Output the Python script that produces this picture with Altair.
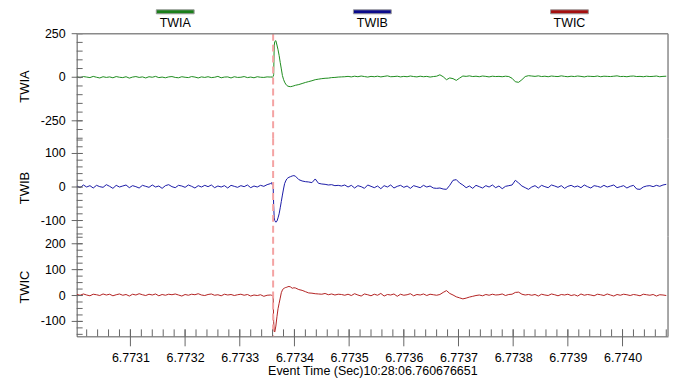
import altair as alt
import pandas as pd

FONT = "Liberation Sans"
T0 = 6.7730  # seconds; sample times below are microseconds after T0

# ---------------- sample time base (microseconds after T0) ----------------
t_pre = list(range(2, 357, 6))  # 60 samples
t_event = [358, 359, 360, 361, 362, 363, 364, 366, 368, 370, 372, 374, 376,
           378, 380, 382, 384, 386, 388, 390, 393, 396, 399]  # 23 samples
t_post = list(range(402, 1083, 6))  # 114 samples

# ---------------- TWIA ----------------
twia_pre = [2, -3, 4, 1, -2, 5, 0, -4, 3, -1,
            2, -3, 4, 0, -2, 3, -5, 1, 4, -1,
            2, -4, 3, 0, 5, -2, 1, -3, 2, 4,
            -1, -3, 3, 0, -2, 4, 1, -4, 2, -1,
            3, -2, 0, 5, -3, 1, 2, -4, 3, -1,
            0, 4, -2, 1, -3, 3, 0, -1, 2, 1]
twia_event = [3, -2, 2, 4, 15, 180, 205, 210, 185, 158, 125, 85, 48, 10, -12,
              -28, -39, -47, -51, -53, -54, -52, -49]
twia_post = [-46, -42, -36, -30, -25, -20, -14, -11, -8, -6, -5, -2, -1, 1, 2, 3,
             5, 2, 6, 3, 7, 4, 1, 5, 3, 6, 2, 5, 8, 3, 4, 6, 2, 5, 3, 7, 4, 2, 6, 3, 5, 1, 4, 6,
             14, 3, -14, -4, -8, -18, -5, 7, 5, 8,
             4, 6, 3, 7, 5, 2, 6, 4, 5, 3, 6, 4,
             -6, -26, -29, -14, 4, 9,
             7, 5, 8, 4, 6, 3, 7, 5, 4, 8, 5, 3, 6, 4, 7, 5, 2, 6, 5, 4,
             7, 3, 6, 5, 4, 6, 8, 4, 5, 3, 6, 7, 4, 5, 3, 6, 4, 5, 7, 3, 5, 6]

# ---------------- TWIB ----------------
twib_pre = [3, -2, 6, 0, 4, -3, 5, 1, -1, 7,
            2, -4, 5, 0, 3, 6, -2, 4, 1, -3,
            5, 2, -1, 6, 0, 3, -4, 4, 7, 1,
            -2, 5, 3, -1, 6, 2, -3, 4, 0, 5,
            1, 6, -2, 3, 0, 4, -3, 5, 2, -1,
            4, 1, 6, -2, 3, 0, 5, 2, 7, 10]
twib_event = [13, 8, 10, 6, -55, -92, -100, -105, -102, -92, -80, -62, -43, -24,
              -6, 10, 18, 24, 27, 29, 31, 33, 34]
twib_post = [32, 22, 18, 16, 15, 13, 24, 11, 9, 8, 6, 7, 4, 5, 3, 6,
             0, 5, -3, 4, 1, -4, 6, 2, -2, 3, -5, 4, 0, 6, -3, 2, 5, -1, 3, -4, 4, 1, -2, 5, 0, 3, -3, -4,
             -3, -6, -7, 5, 20, 22, 12, 6, -2, 3,
             -4, 5, 1, -3, 4, 0, 6, -2, 3, -5, 2, 4,
             6, 20, 12, 3, -2, -7,
             0, 4, -3, 5, 1, -2, 6, 3, -1, 4, -4, 2, 5, 0, 3, -2, 6, 1, -3, 4,
             2, -1, 5, 0, 3, 6, -2, 1, 4, -3, 2, 5, -6, -7, 0, 3, 4, 1, 5, 2, 6, 8]

# ---------------- TWIC ----------------
twic_pre = [4, 1, 6, 2, -1, 5, 3, 0, 6, 2,
            5, -1, 3, 6, 1, 4, -2, 5, 2, 7,
            3, 0, 5, 2, 6, -1, 4, 1, 5, 3,
            6, 2, -2, 4, 1, 5, 3, 7, 2, 0,
            4, 6, 1, 3, -1, 5, 2, 4, 0, 3,
            5, 1, 4, -2, 2, 0, 3, -3, 1, 2]
twic_event = [2, -1, 0, -3, -100, -138, -141, -118, -82, -51, -30, -10, 11, 21,
              27, 29, 31, 32, 34, 35, 33, 28, 30]
twic_post = [29, 23, 20, 15, 10, 9, 7, 6, 5, 8, 3, 6, 2, 5, 4, 1,
             5, 0, 7, 2, -2, 6, 3, -1, 5, 1, 8, -2, 4, 2, 6, -3, 5, 1, 3, 7, -1, 4, 2, 6, 0, 5, 3, 1,
             4, 12, 19, 8, 2, -5, -9, -13, -10, -6,
             -3, 0, 2, -1, 4, 1, 5, 2, 3, 6, 0, 4,
             5, 12, 13, 5, 2, 4,
             1, 4, -2, 5, 2, 0, 6, 3, -1, 4, 2, 5, 0, 3, -2, 6, 1, 4, 2, -1,
             5, 3, 0, 6, 2, -2, 4, 1, 5, 3, 0, 4, 2, -1, 5, 3, 1, 4, -2, 3, 2, 0]

# ---------------- axes / labels ----------------
NAMES = ["TWIA", "TWIB", "TWIC"]
LINE_COLORS = ["#1e8c1e", "#1a1aa6", "#b22222"]
LEGEND_COLORS = ["#1a7f1a", "#0a0a8c", "#a50f0f"]
X_DOMAIN = [6.7730017, 6.7740832]
X_MAJOR = [6.7731, 6.7732, 6.7733, 6.7734, 6.7735, 6.7736, 6.7737, 6.7738, 6.7739, 6.7740]
X_MINOR_US = list(range(20, 1081, 20))  # minor x ticks, microseconds after T0
EVENT_TIME = [6.773361]
X_TITLE = "Event Time (Sec)10:28:06.760676651"

Y_DOMAINS = [[-350, 250], [-148.5, 145.5], [-157.7, 226.9]]
Y_MAJOR = [[-250, 0, 250], [-100, 0, 100], [-100, 0, 100, 200]]
Y_MINOR = [list(range(-350, 251, 50)), list(range(-140, 141, 20)), list(range(-150, 226, 25))]
HEIGHTS = [105, 99, 100]
W = 594


def series_df(pre, ev, post):
    times = t_pre + t_event + t_post
    vals = pre + ev + post
    return pd.DataFrame({"t": [T0 + u * 1e-6 for u in times], "v": vals})


SERIES = [series_df(twia_pre, twia_event, twia_post),
          series_df(twib_pre, twib_event, twib_post),
          series_df(twic_pre, twic_event, twic_post)]

xscale = alt.Scale(domain=X_DOMAIN, zero=False, nice=False)
one = pd.DataFrame({"a": [0]})


def panel(i, bottom=False, top=False):
    h = HEIGHTS[i]
    yscale = alt.Scale(domain=Y_DOMAINS[i], zero=False, nice=False)
    if bottom:
        xaxis = alt.Axis(values=X_MAJOR, format=".4f", ticks=False, tickSize=0,
                         labelPadding=15, labelFontSize=12.5, labelFont=FONT,
                         labelColor="black", labelFlush=False, labelOverlap=False,
                         domainColor="#555", title=X_TITLE, titleFont=FONT,
                         titleFontSize=12.5, titleFontWeight="normal",
                         titleColor="black", titlePadding=1, grid=False)
        xo = {}
    else:
        xaxis = None
        xo = {"axis": None}
    yaxis = alt.Axis(values=Y_MAJOR[i], title=NAMES[i], ticks=False, tickSize=0,
                     labels=False, titleFont=FONT, titleFontSize=13,
                     titleFontWeight="normal", titleColor="black", titlePadding=10,
                     minExtent=35, maxExtent=35, domainColor="#555", grid=False)
    major_df = pd.DataFrame({"tv": Y_MAJOR[i], "lab": [str(v) for v in Y_MAJOR[i]]})
    layers = []
    layers.append(alt.Chart(SERIES[i]).mark_line(color=LINE_COLORS[i], strokeWidth=1, clip=True).encode(
        x=alt.X("t:Q", scale=xscale, axis=xaxis),
        y=alt.Y("v:Q", scale=yscale, axis=yaxis),
    ))
    layers.append(alt.Chart(pd.DataFrame({"t": EVENT_TIME})).mark_rule(
        color="#f4a3a3", strokeWidth=2, strokeDash=[7, 4]).encode(
        x=alt.X("t:Q", scale=xscale, **xo)))
    layers.append(alt.Chart(pd.DataFrame({"tv": Y_MINOR[i]})).mark_rule(color="#666", strokeWidth=1).encode(
        y=alt.Y("tv:Q", scale=yscale), x=alt.value(0), x2=alt.value(6)))
    layers.append(alt.Chart(major_df).mark_rule(color="#666", strokeWidth=1).encode(
        y=alt.Y("tv:Q", scale=yscale), x=alt.value(-5), x2=alt.value(6)))
    layers.append(alt.Chart(major_df).mark_text(
        align="right", baseline="middle", fontSize=12.5, font=FONT, color="black").encode(
        y=alt.Y("tv:Q", scale=yscale), x=alt.value(-11), text="lab:N"))
    layers.append(alt.Chart(one).mark_rule(color="#8a8a8a", strokeWidth=1.5).encode(
        x=alt.value(W), y=alt.value(0), y2=alt.value(h)))
    if top:
        layers.append(alt.Chart(one).mark_rule(color="#8a8a8a", strokeWidth=1.5).encode(
            x=alt.value(0), x2=alt.value(W), y=alt.value(0)))
    if bottom:
        layers.append(alt.Chart(pd.DataFrame({"t": [T0 + u * 1e-6 for u in X_MINOR_US]})).mark_rule(
            color="#666", strokeWidth=1).encode(
            x=alt.X("t:Q", scale=xscale), y=alt.value(h - 7), y2=alt.value(h)))
        layers.append(alt.Chart(pd.DataFrame({"t": X_MAJOR})).mark_rule(
            color="#666", strokeWidth=1).encode(
            x=alt.X("t:Q", scale=xscale), y=alt.value(h - 7), y2=alt.value(h + 10)))
    return alt.layer(*layers).properties(width=W, height=h)


leg_df = pd.DataFrame({"name": NAMES, "color": LEGEND_COLORS})
leg_x = alt.X("name:N", scale=alt.Scale(domain=NAMES, paddingInner=0, paddingOuter=0), axis=None)
legend_bars = alt.Chart(leg_df).mark_bar(size=38, stroke="#999", strokeWidth=1).encode(
    x=leg_x, y=alt.value(8), y2=alt.value(12), color=alt.Color("color:N", scale=None))
legend_text = alt.Chart(leg_df).mark_text(fontSize=12.5, font=FONT, baseline="middle", color="black").encode(
    x=leg_x, y=alt.value(21), text="name:N")
legend = alt.layer(legend_bars, legend_text).properties(width=W, height=32)

chart = alt.vconcat(
    legend, panel(0, top=True), panel(1), panel(2, bottom=True),
    spacing=0, bounds="flush"
).properties(
    padding={"left": 18, "top": 0, "right": 3, "bottom": 0},
    background="white",
).configure_view(stroke="transparent")

chart.save("out.html", embed_options={"renderer": "svg", "actions": False})
